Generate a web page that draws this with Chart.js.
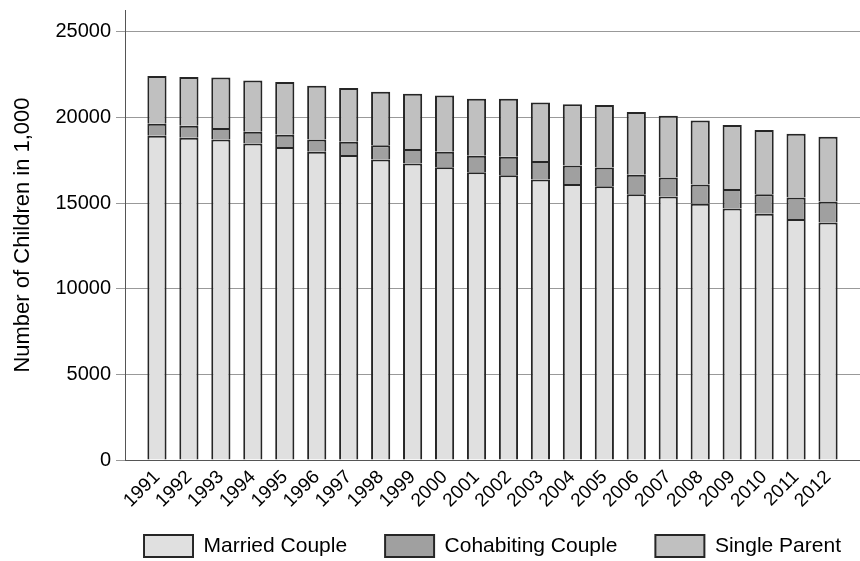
<!DOCTYPE html>
<html>
<head>
<meta charset="utf-8">
<script src="https://cdn.jsdelivr.net/npm/chart.js@4/dist/chart.umd.min.js"></script>
<style>
  html, body { margin: 0; padding: 0; background: #fff; }
  #wrap { width: 860px; height: 561px; }
</style>
</head>
<body>
<div id="wrap"><canvas id="c" width="860" height="561"></canvas></div>
<script>
// ---- data (thousands of children) ----
const years = ['1991','1992','1993','1994','1995','1996','1997','1998','1999','2000','2001',
               '2002','2003','2004','2005','2006','2007','2008','2009','2010','2011','2012'];
const marriedCouple = [18925,18810,18715,18480,18265,17990,17800,17545,17315,17095,16805,
                       16630,16380,16105,15985,15520,15385,14955,14685,14370,14075,13865];
const cohabitingCouple = [700,700,660,680,720,725,775,835,835,895,950,
                          1070,1070,1090,1095,1125,1110,1135,1130,1150,1250,1230];
const singleParent = [2785,2845,2960,3000,3075,3130,3135,3115,3230,3295,3330,
                      3385,3425,3580,3640,3665,3600,3735,3735,3740,3715,3775];
const yTicks = [0, 5000, 10000, 15000, 20000, 25000];

// pad one empty slot on each side of the year axis
const labels = [''].concat(years, ['']);
const pad = arr => [null].concat(arr, [null]);

const legendPlacer = {
  id: 'legendPlacer',
  afterLayout(chart) {
    const lg = chart.legend, ca = chart.chartArea;
    if (lg) {
      const shift = ((ca.left + ca.right) - (lg.left + lg.right)) / 2;
      lg.left += shift; lg.right += shift;
      const p = lg.options.labels.padding;
      const h = lg.height;
      lg.top = 535 - p; lg.bottom = lg.top + h;
    }
    const xs = chart.scales.x;
    xs.bottom = chart.height;
  }
};

const FONT = 'Liberation Sans, Arial, sans-serif';
const edge = '#262626';
new Chart(document.getElementById('c'), {
  type: 'bar',
  data: {
    labels: labels,
    datasets: [
      { label: 'Married Couple', data: pad(marriedCouple), backgroundColor: '#e0e0e0', borderColor: edge, borderWidth: 2 },
      { label: 'Cohabiting Couple', data: pad(cohabitingCouple), backgroundColor: '#a0a0a0', borderColor: edge, borderWidth: 2 },
      { label: 'Single Parent', data: pad(singleParent), backgroundColor: '#c0c0c0', borderColor: edge, borderWidth: 2 }
    ]
  },
  options: {
    responsive: false,
    devicePixelRatio: 1,
    animation: false,
    layout: { padding: { top: 10, left: 0, right: 0, bottom: 0 } },
    datasets: { bar: { categoryPercentage: 1, barPercentage: 0.6 } },
    plugins: {
      tooltip: { enabled: false },
      legend: {
        position: 'bottom',
        labels: {
          boxWidth: 49, boxHeight: 22, padding: 38, color: '#000',
          font: { family: FONT, size: 21 }
        }
      }
    },
    scales: {
      x: {
        stacked: true,
        offset: false,
        grid: { display: false },
        border: { display: true, color: '#555', width: 1 },
        ticks: {
          autoSkip: false, maxRotation: 45, minRotation: 45, padding: -2, color: '#000',
          font: { family: FONT, size: 19 }
        },
        afterFit(scale) {
          const lh = scale.chart.legend ? scale.chart.legend.height : 0;
          scale.height = 561 - 460 - lh;
          scale.paddingLeft = 0; scale.paddingRight = 0;
        }
      },
      y: {
        stacked: true,
        min: 0,
        max: 26270,
        grid: { color: '#999', lineWidth: 1, tickLength: 9, drawTicks: true },
        border: { display: true, color: '#555', width: 1 },
        ticks: {
          stepSize: 5000, padding: 5, color: '#000',
          font: { family: FONT, size: 20 },
          callback: v => String(v)
        },
        afterBuildTicks(scale) {
          scale.ticks = yTicks.map(v => ({ value: v }));
        },
        title: {
          display: true, text: 'Number of Children in 1,000', color: '#000',
          padding: { top: 10, bottom: 0 },
          font: { family: FONT, size: 22 }
        },
        afterFit(scale) {
          scale.width = 125;
          scale.paddingTop = 0; scale.paddingBottom = 0;
        }
      }
    }
  },
  plugins: [legendPlacer]
});
</script>
</body>
</html>
